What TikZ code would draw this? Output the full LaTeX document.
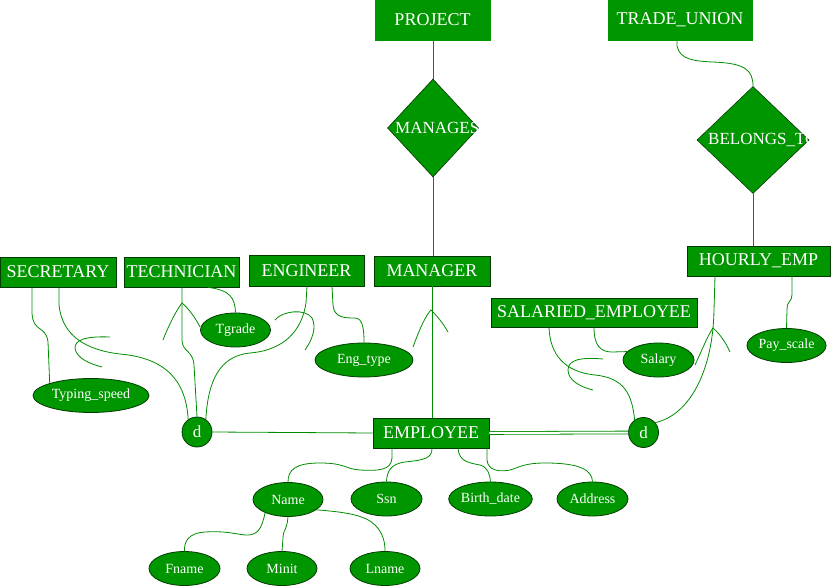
\documentclass[tikz,border=0pt]{standalone}
\usepackage{fontspec}
\setmainfont{Liberation Serif}
\usetikzlibrary{shapes.geometric}
\definecolor{erfill}{RGB}{0,150,0}
\definecolor{erline}{RGB}{0,140,0}
\definecolor{erborder}{RGB}{0,60,0}
\begin{document}
\begin{tikzpicture}[x=1pt,y=-1pt,
 entity/.style={rectangle, fill=erfill, draw=erborder, line width=0.8pt, text=white, inner sep=0pt, font=\fontsize{18}{20}\selectfont},
 attr/.style={ellipse, fill=erfill, draw=erborder, line width=0.8pt, text=white, inner sep=0pt, font=\fontsize{14}{16}\selectfont},
 rel/.style={diamond, fill=erfill, draw=erborder, line width=0.6pt, inner sep=0pt},
 rellbl/.style={text=white, inner sep=0pt, anchor=west, font=\fontsize{17}{19}\selectfont},
 dcirc/.style={circle, fill=erfill, draw=erborder, line width=0.8pt, text=white, inner sep=0pt, minimum size=30pt, font=\fontsize{17}{19}\selectfont},
 conn/.style={draw=erline, line width=0.8pt},
 subsetmark/.style={draw=erline, line width=0.8pt},
]
\useasboundingbox (0,0) rectangle (831,586);

% entities
\node[entity, draw=erfill, minimum width=115pt, minimum height=40pt] (proj) at (432.5,20) {PROJECT};
\node[entity, draw=erfill, minimum width=144pt, minimum height=40pt] (tu) at (680,20) {TRADE\_UNION};
\node[entity, minimum width=116pt, minimum height=30pt] (sec) at (58,272) {SECRETARY};
\node[entity, minimum width=115pt, minimum height=30pt] (tech) at (181.5,272) {TECHNICIAN};
\node[entity, minimum width=115pt, minimum height=31pt] (eng) at (306.5,270.5) {ENGINEER};
\node[entity, minimum width=116pt, minimum height=30pt] (mgr) at (432,271) {MANAGER};
\node[entity, minimum width=143pt, minimum height=30pt] (hourly) at (758.5,261) {HOURLY\_EMP};
\node[entity, minimum width=206pt, minimum height=29pt] (sal) at (594,312.5) {SALARIED\_EMPLOYEE};
\node[entity, minimum width=116pt, minimum height=30pt] (emp) at (431,433) {EMPLOYEE};

% relationships
\node[rel, minimum width=91pt, minimum height=98pt] (manages) at (433,128) {};
\node[rel, minimum width=112pt, minimum height=107pt] (belongs) at (753,140) {};
\begin{scope}
\clip (manages.north) -- (manages.east) -- (manages.south) -- (manages.west) -- cycle;
\node[rellbl] (manageslbl) at (395,128) {MANAGES};
\end{scope}
\begin{scope}
\clip (belongs.north) -- (belongs.east) -- (belongs.south) -- (belongs.west) -- cycle;
\node[rellbl] (belongslbl) at (708,140) {BELONGS\_TO};
\end{scope}

% specialization circles
\node[dcirc] (dl) at (197,432) {d};
\node[dcirc] (dr) at (643.5,432.5) {d};

% attributes
\node[attr, minimum width=70pt, minimum height=34pt] (tgrade) at (235.5,330) {Tgrade};
\node[attr, minimum width=116pt, minimum height=34pt] (typ) at (91,395.5) {Typing\_speed};
\node[attr, minimum width=98pt, minimum height=34pt] (engtype) at (364,360) {Eng\_type};
\node[attr, minimum width=71pt, minimum height=34pt] (salary) at (658.5,360) {Salary};
\node[attr, minimum width=71pt, minimum height=34pt] (pay) at (786.5,345.5) {Pay\_scale};
\node[attr, minimum width=70pt, minimum height=34pt] (name) at (288,499.5) {Name};
\node[attr, minimum width=71pt, minimum height=34pt] (ssn) at (386.5,499) {Ssn};
\node[attr, minimum width=71pt, minimum height=34pt] (bd) at (490.5,499) {Birth\_date};
\node[attr, minimum width=71pt, minimum height=34pt] (addr) at (592.5,499) {Address};
\node[attr, minimum width=71pt, minimum height=34pt] (fname) at (184.5,568.5) {Fname};
\node[attr, minimum width=70pt, minimum height=34pt] (minit) at (282,568.5) {Minit};
\node[attr, minimum width=70pt, minimum height=34pt] (lname) at (385,568.5) {Lname};

% relationship connectors
\draw[conn] (proj.south -| manages.north) -- (manages.north);
\draw[conn] (manages.south) -- (manages.south |- mgr.north);
\draw[conn] (tu.south -| 677,0) -- (677,46) .. controls (680,60) and (695,61) .. (712,62) .. controls (745,63) and (753,70) .. (belongs.north);
\draw[conn] (belongs.south) -- (belongs.south |- hourly.north);

% manager -> employee with subset mark
\draw[conn] (mgr.south) -- (mgr.south |- emp.north);
\draw[subsetmark] (413,347) .. controls (420,328) and (426,315) .. (431,310) .. controls (437,316) and (443,323) .. (448,332);

% secretary
\draw[conn] ([xshift=-26pt]sec.south) -- (32,313) .. controls (33,333) and (46,325) .. (48,342) -- (typ.north west);
\draw[conn] ([xshift=1pt]sec.south) -- (59,305) .. controls (62,335) and (85,350) .. (120,354) .. controls (165,358) and (186,380) .. (dl.125);
\draw[subsetmark] (110,337) .. controls (85,336) and (75,340) .. (75,348) .. controls (76,358) and (90,364) .. (102,367);

% technician
\draw[conn] ([xshift=0.5pt]tech.south) -- (182,340) .. controls (182,352) and (193,350) .. (194,365) -- (dl.north);
\draw[subsetmark] (163,340) .. controls (170,322) and (178,308) .. (182,303) .. controls (188,308) and (195,317) .. (200,327);
\draw[conn] ([xshift=26.5pt]tech.south) .. controls (230,290) and (235,298) .. (tgrade.north);

% engineer
\draw[conn] ([xshift=0.5pt]eng.south) -- (306,303) .. controls (302,330) and (285,350) .. (250,353) .. controls (220,356) and (208,380) .. (dl.55);
\draw[subsetmark] (275,320) .. controls (282,311) and (305,308) .. (312,318) .. controls (317,328) and (312,340) .. (305,350);
\draw[conn] ([xshift=25.5pt]eng.south) -- (333,305) .. controls (334,318) and (345,318) .. (355,318) .. controls (363,318) and (364,330) .. (engtype.north);

% salaried employee
\draw[conn] ([xshift=-45pt]sal.south) .. controls (550,355) and (565,372) .. (595,375) .. controls (625,378) and (632,395) .. (dr.125);
\draw[subsetmark] (603,359) .. controls (580,357) and (568,360) .. (568,370) .. controls (568,380) and (580,387) .. (593,390);
\draw[conn] (sal.south) .. controls (594,345) and (600,352) .. (612,352) -- (salary.165);

% hourly employee
\draw[conn] ([xshift=-43.5pt]hourly.south) -- (714,310) .. controls (713,370) and (690,415) .. (dr.40);
\draw[subsetmark] (695,365) .. controls (702,350) and (708,335) .. (713,328) .. controls (720,334) and (726,343) .. (730,352);
\draw[conn] ([xshift=33.5pt]hourly.south) -- (792,295) .. controls (792,302) and (787,300) .. (787,310) -- (pay.north);

% disjointness connections
\draw[conn] (dl.east) -- (emp.west);
\draw[draw=erline, line width=0.8pt, double=white, double distance=2pt] (emp.east) -- (dr.west);

% employee attributes
\draw[conn] ([xshift=-39pt]emp.south) -- (392,458) .. controls (391,470) and (380,471) .. (360,470) .. controls (345,469) and (345,463) .. (320,463) .. controls (295,463) and (288,470) .. (name.north);
\draw[conn] ([xshift=1pt]emp.south) .. controls (432,458) and (425,460) .. (405,462) .. controls (390,464) and (387,472) .. (ssn.north);
\draw[conn] ([xshift=27pt]emp.south) .. controls (459,462) and (470,463) .. (480,465) .. controls (488,467) and (490,475) .. (bd.north);
\draw[conn] ([xshift=56pt]emp.south) -- (487,460) .. controls (488,471) and (500,472) .. (510,470) .. controls (520,467) and (525,463) .. (545,463) .. controls (580,463) and (592,470) .. (addr.north);

% name components
\draw[conn] (name.210) .. controls (262,528) and (258,536) .. (245,535) .. controls (230,533) and (225,531) .. (205,532) .. controls (188,533) and (184,542) .. (fname.north);
\draw[conn] (name.south) .. controls (287,530) and (283,530) .. (283,538) -- (minit.north);
\draw[conn] (name.-20) .. controls (345,512) and (365,515) .. (375,525) .. controls (383,533) and (385,542) .. (lname.north);
\end{tikzpicture}
\end{document}
